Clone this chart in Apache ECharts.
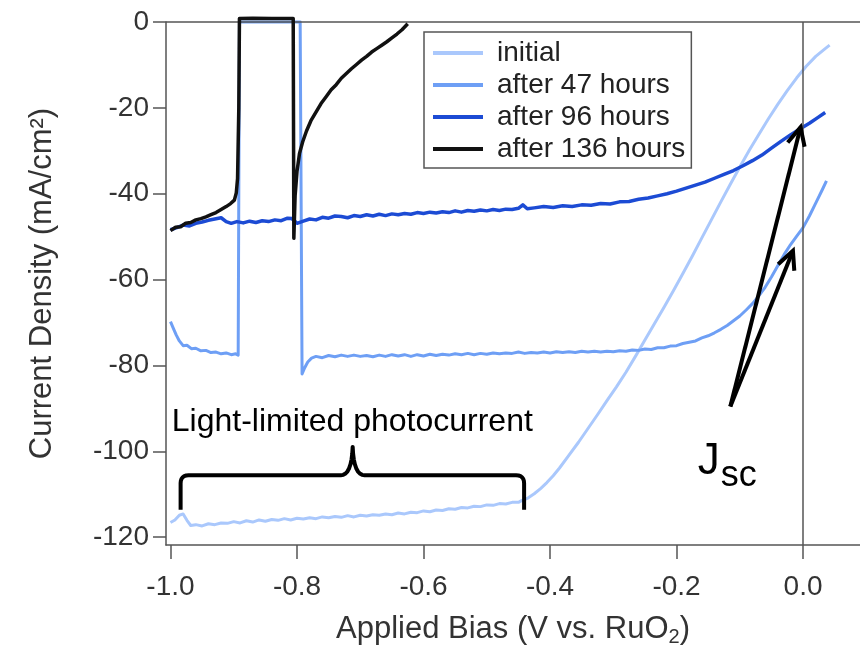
<!DOCTYPE html>
<html>
<head>
<meta charset="utf-8">
<script src="https://cdn.jsdelivr.net/npm/echarts@6/dist/echarts.min.js"></script>
<style>
  html, body { margin: 0; padding: 0; background: #fff; }
  #chart { width: 860px; height: 652px; }
</style>
</head>
<body>
<div id="chart"></div>
<script>
(function() {
  var font = 'Liberation Sans, Arial, Helvetica, sans-serif';
  var axisGray = '#555';
  var textGray = '#333';

  // series names, in legend order
  var seriesNames = ['initial', 'after 47 hours', 'after 96 hours', 'after 136 hours'];
  var seriesColors = ['#aac8fc', '#6e9ff5', '#1c4bd4', '#111111'];

  // tick values
  var xTicks = [-1.0, -0.8, -0.6, -0.4, -0.2, 0.0];
  var yTicks = [-120, -100, -80, -60, -40, -20, 0];

  // [bias V, current density mA/cm2]
  var initial = [
    [-1.000,-116.6],[-0.993,-116.0],[-0.986,-114.9],[-0.980,-114.6],[-0.974,-116.1],[-0.968,-117.3],
    [-0.960,-117.1],[-0.950,-117.4],[-0.940,-116.9],[-0.930,-117.1],[-0.920,-116.7],[-0.910,-116.8],
    [-0.900,-116.4],[-0.890,-116.7],[-0.880,-116.2],[-0.870,-116.5],[-0.860,-116.0],[-0.850,-116.3],
    [-0.840,-115.9],[-0.830,-116.1],[-0.820,-115.7],[-0.810,-116.0],[-0.800,-115.6],[-0.790,-115.8],
    [-0.780,-115.5],[-0.770,-115.7],[-0.760,-115.3],[-0.750,-115.5],[-0.740,-115.2],[-0.730,-115.4],
    [-0.720,-115.0],[-0.710,-115.3],[-0.700,-114.9],[-0.690,-115.1],[-0.680,-114.8],[-0.670,-114.9],
    [-0.660,-114.6],[-0.650,-114.8],[-0.640,-114.4],[-0.630,-114.6],[-0.620,-114.2],[-0.610,-114.3],
    [-0.600,-113.9],[-0.590,-114.1],[-0.580,-113.7],[-0.570,-113.8],[-0.560,-113.4],[-0.550,-113.5],
    [-0.540,-113.1],[-0.530,-113.2],[-0.520,-112.8],[-0.510,-112.9],[-0.500,-112.5],[-0.490,-112.6],
    [-0.480,-112.2],[-0.470,-112.3],[-0.460,-111.9],[-0.450,-111.9],[-0.445,-111.5],[-0.435,-110.9],
    [-0.425,-109.9],[-0.415,-108.7],[-0.405,-107.3],[-0.395,-105.7],[-0.385,-103.9],[-0.370,-100.9],
    [-0.355,-97.9],[-0.340,-94.7],[-0.325,-91.5],[-0.310,-88.2],[-0.295,-85.0],[-0.280,-81.6],
    [-0.265,-77.9],[-0.250,-74.1],[-0.235,-70.3],[-0.220,-66.5],[-0.205,-62.6],[-0.190,-58.6],
    [-0.175,-54.5],[-0.160,-50.3],[-0.145,-46.1],[-0.130,-41.9],[-0.115,-37.8],[-0.100,-33.8],
    [-0.085,-29.9],[-0.070,-26.2],[-0.055,-22.6],[-0.040,-19.2],[-0.025,-16.0],[-0.010,-13.0],
    [0.005,-10.3],[0.020,-8.0],[0.035,-6.2],[0.042,-5.4]
  ];

  var after47 = [
    [-1.000,-69.8],[-0.996,-71.2],[-0.991,-72.9],[-0.986,-74.3],[-0.980,-75.4],[-0.974,-75.3],
    [-0.967,-76.1],[-0.960,-76.0],[-0.952,-76.6],[-0.944,-76.5],[-0.936,-77.0],[-0.928,-76.9],
    [-0.920,-77.3],[-0.912,-77.1],[-0.904,-77.5],[-0.897,-77.3],[-0.893,-77.6],[-0.891,0],
    [-0.795,0],[-0.792,-82.0],[-0.788,-80.6],[-0.783,-79.2],[-0.777,-78.3],[-0.770,-77.9],
    [-0.760,-78.2],[-0.750,-77.7],[-0.740,-78.0],[-0.730,-77.6],[-0.720,-77.9],[-0.710,-77.6],
    [-0.700,-77.9],[-0.690,-77.7],[-0.680,-78.0],[-0.670,-77.6],[-0.660,-77.9],[-0.650,-77.5],
    [-0.640,-77.8],[-0.630,-77.5],[-0.620,-77.9],[-0.610,-77.5],[-0.600,-77.8],[-0.590,-77.4],
    [-0.580,-77.7],[-0.570,-77.4],[-0.560,-77.6],[-0.550,-77.3],[-0.540,-77.5],[-0.530,-77.2],
    [-0.520,-77.5],[-0.510,-77.2],[-0.500,-77.4],[-0.490,-77.1],[-0.480,-77.3],[-0.470,-77.1],
    [-0.460,-77.2],[-0.450,-76.9],[-0.440,-77.2],[-0.430,-77.0],[-0.420,-77.1],[-0.410,-76.9],
    [-0.400,-77.1],[-0.390,-76.8],[-0.380,-77.0],[-0.370,-76.8],[-0.360,-77.0],[-0.350,-76.7],
    [-0.340,-76.9],[-0.330,-76.7],[-0.320,-76.9],[-0.310,-76.7],[-0.300,-76.8],[-0.290,-76.6],
    [-0.280,-76.7],[-0.270,-76.4],[-0.260,-76.5],[-0.250,-76.2],[-0.240,-76.3],[-0.230,-75.9],
    [-0.220,-75.9],[-0.210,-75.5],[-0.200,-75.4],[-0.190,-74.9],[-0.180,-74.6],[-0.170,-74.3],
    [-0.160,-73.6],[-0.150,-73.1],[-0.140,-72.4],[-0.130,-71.6],[-0.120,-70.7],[-0.110,-69.6],
    [-0.100,-68.5],[-0.090,-67.1],[-0.080,-65.6],[-0.070,-63.8],[-0.060,-61.8],[-0.050,-59.4],
    [-0.040,-56.8],[-0.030,-54.2],[-0.020,-51.9],[-0.010,-49.9],[0.000,-47.9],[0.010,-45.2],
    [0.020,-42.2],[0.030,-39.2],[0.037,-37.0]
  ];

  var after96 = [
    [-1.000,-48.4],[-0.990,-47.9],[-0.980,-47.3],[-0.970,-47.5],[-0.960,-46.9],[-0.950,-46.6],
    [-0.940,-46.2],[-0.930,-45.9],[-0.920,-45.6],[-0.912,-46.5],[-0.904,-46.9],[-0.895,-46.5],
    [-0.885,-46.8],[-0.875,-46.4],[-0.865,-46.7],[-0.855,-46.3],[-0.845,-46.5],[-0.835,-46.1],
    [-0.825,-46.3],[-0.815,-45.7],[-0.808,-45.8],[-0.800,-46.9],[-0.790,-46.4],[-0.780,-45.9],
    [-0.770,-46.1],[-0.760,-45.5],[-0.750,-45.7],[-0.740,-45.2],[-0.730,-45.3],[-0.720,-45.6],
    [-0.710,-45.1],[-0.700,-45.3],[-0.690,-44.9],[-0.680,-45.2],[-0.670,-44.8],[-0.660,-45.1],
    [-0.650,-44.7],[-0.640,-44.9],[-0.630,-44.6],[-0.620,-44.8],[-0.610,-44.4],[-0.600,-44.6],
    [-0.590,-44.3],[-0.580,-44.5],[-0.570,-44.2],[-0.560,-44.4],[-0.550,-44.0],[-0.540,-44.3],
    [-0.530,-43.9],[-0.520,-44.1],[-0.510,-43.8],[-0.500,-44.0],[-0.490,-43.7],[-0.480,-43.9],
    [-0.470,-43.6],[-0.460,-43.7],[-0.450,-43.4],[-0.443,-42.6],[-0.436,-43.5],[-0.425,-43.3],
    [-0.410,-43.0],[-0.395,-43.2],[-0.380,-42.8],[-0.365,-43.0],[-0.350,-42.6],[-0.335,-42.7],
    [-0.320,-42.3],[-0.305,-42.4],[-0.290,-41.9],[-0.275,-41.8],[-0.260,-41.3],[-0.245,-41.0],
    [-0.230,-40.5],[-0.215,-40.0],[-0.200,-39.4],[-0.185,-38.7],[-0.170,-38.0],[-0.155,-37.3],
    [-0.140,-36.4],[-0.125,-35.5],[-0.110,-34.6],[-0.095,-33.5],[-0.080,-32.3],[-0.065,-31.0],
    [-0.050,-29.4],[-0.035,-27.8],[-0.020,-26.3],[-0.005,-24.9],[0.010,-23.6],[0.022,-22.4],
    [0.035,-21.1]
  ];

  var after136 = [
    [-1.000,-48.6],[-0.992,-47.8],[-0.984,-47.7],[-0.976,-46.9],[-0.968,-46.7],[-0.960,-46.1],
    [-0.952,-45.8],[-0.944,-45.4],[-0.936,-44.9],[-0.928,-44.4],[-0.920,-43.7],[-0.912,-43.0],
    [-0.905,-42.3],[-0.899,-41.5],[-0.896,-39.8],[-0.894,-36.5],[-0.892,-20.0],[-0.891,0.8],
    [-0.870,0.9],[-0.840,0.8],[-0.806,0.8],[-0.805,-50.4],[-0.803,-40.5],[-0.800,-34.8],
    [-0.796,-30.6],[-0.791,-27.9],[-0.785,-25.4],[-0.778,-23.0],[-0.770,-21.0],[-0.762,-19.0],
    [-0.754,-17.4],[-0.746,-15.8],[-0.738,-14.6],[-0.730,-13.1],[-0.722,-12.0],[-0.714,-10.9],
    [-0.706,-9.9],[-0.698,-8.9],[-0.690,-8.0],[-0.682,-7.0],[-0.674,-6.2],[-0.666,-5.4],
    [-0.658,-4.6],[-0.650,-3.7],[-0.642,-2.8],[-0.634,-1.8],[-0.625,-0.4]
  ];

  var seriesData = [initial, after47, after96, after136];
  var lineWidths = [3, 3, 3.5, 3.5];

  var chart = echarts.init(document.getElementById('chart'), null, { renderer: 'canvas' });

  var series = seriesData.map(function(d, i) {
    var s = {
      name: seriesNames[i],
      type: 'line',
      data: d,
      showSymbol: false,
      symbol: 'none',
      clip: false,
      silent: true,
      lineStyle: { color: seriesColors[i], width: lineWidths[i], join: 'round' },
      itemStyle: { color: seriesColors[i] },
      z: 2 + i
    };
    if (i === 0) {
      s.markLine = {
        silent: true,
        symbol: ['none', 'none'],
        label: { show: false },
        lineStyle: { color: axisGray, width: 1.5, type: 'solid' },
        data: [{ xAxis: 0 }, { yAxis: 0 }]
      };
    }
    return s;
  });

  chart.setOption({
    animation: false,
    textStyle: { fontFamily: font },
    grid: { left: 166, right: 0, top: 22, bottom: 99, containLabel: false },
    legend: {
      orient: 'vertical',
      left: 424,
      top: 32,
      padding: [6, 6, 4, 9],
      itemGap: 2,
      itemWidth: 50,
      itemHeight: 4,
      icon: 'rect',
      borderColor: axisGray,
      borderWidth: 1.5,
      data: seriesNames,
      textStyle: { fontSize: 28, color: '#222', fontFamily: font, lineHeight: 30, padding: [0, 0, 0, 9] }
    },
    xAxis: {
      type: 'value',
      min: -1.0071,
      max: 0.090,
      splitLine: { show: false },
      axisLine: { onZero: false, lineStyle: { color: axisGray, width: 1.5 } },
      axisTick: { length: 14, lineStyle: { color: axisGray, width: 1.5 }, customValues: xTicks },
      axisLabel: {
        customValues: xTicks, margin: 28, fontSize: 28, color: textGray, fontFamily: font,
        formatter: function(v) { return v.toFixed(1); }
      },
      name: 'Applied Bias (V vs. RuO{sub|2})',
      nameLocation: 'middle',
      nameGap: 67,
      nameTextStyle: {
        fontSize: 31, color: textGray, fontFamily: font,
        rich: { sub: { fontSize: 20, color: textGray, fontFamily: font, padding: [15, 0, 0, 0] } }
      }
    },
    yAxis: {
      type: 'value',
      min: -121.84,
      max: 0,
      splitLine: { show: false },
      axisLine: { onZero: false, lineStyle: { color: axisGray, width: 1.5 } },
      axisTick: { length: 13, lineStyle: { color: axisGray, width: 1.5 }, customValues: yTicks },
      axisLabel: { customValues: yTicks, margin: 17, fontSize: 28, color: textGray, fontFamily: font },
      name: 'Current Density (mA/cm\u00b2)',
      nameLocation: 'middle',
      nameGap: 108,
      nameTextStyle: { fontSize: 31, color: textGray, fontFamily: font }
    },
    series: series
  });

  // annotations placed in data coordinates
  function px(p) { return chart.convertToPixel({ gridIndex: 0 }, p); }

  // quadratic curve points from p0 via c to p1
  function quad(p0, c, p1, n) {
    var out = [];
    for (var k = 1; k <= n; k++) {
      var t = k / n, u = 1 - t;
      out.push([u * u * p0[0] + 2 * u * t * c[0] + t * t * p1[0], u * u * p0[1] + 2 * u * t * c[1] + t * t * p1[1]]);
    }
    return out;
  }

  var bL = px([-0.984, -113.6]);
  var bR = px([-0.441, -113.6]);
  var bBar = px([-0.712, -105.6]);
  var bTip = px([-0.712, -99.0]);
  var r = 8, by = bBar[1], mx = bTip[0];
  var bracePts = [[bL[0], bL[1]], [bL[0], by + r]]
    .concat(quad([bL[0], by + r], [bL[0], by], [bL[0] + r, by], 6))
    .concat([[mx - 12, by]])
    .concat(quad([mx - 12, by], [mx - 1, by], [mx, bTip[1]], 8))
    .concat(quad([mx, bTip[1]], [mx + 1, by], [mx + 12, by], 8))
    .concat([[bR[0] - r, by]])
    .concat(quad([bR[0] - r, by], [bR[0], by], [bR[0], by + r], 6))
    .concat([[bR[0], bR[1]]]);

  function arrow(from, to) {
    var a = px(from), b = px(to);
    var ang = Math.atan2(b[1] - a[1], b[0] - a[0]);
    var L = 20, t = 0.45;
    var h1 = [b[0] - L * Math.cos(ang - t), b[1] - L * Math.sin(ang - t)];
    var h2 = [b[0] - L * Math.cos(ang + t), b[1] - L * Math.sin(ang + t)];
    return [
      { type: 'polyline', silent: true, z: 20, shape: { points: [a, b] }, style: { stroke: '#000', lineWidth: 4, fill: null } },
      { type: 'polyline', silent: true, z: 20, shape: { points: [h1, b, h2] }, style: { stroke: '#000', lineWidth: 4, fill: null, lineJoin: 'miter' } }
    ];
  }

  var tail = [-0.115, -89.6];
  var labelPos = px([-0.998, -93.2]);
  var jPos = px([-0.165, -101.0]);

  var graphics = [
    { type: 'polyline', silent: true, z: 20, shape: { points: bracePts }, style: { stroke: '#000', lineWidth: 4, fill: null, lineJoin: 'round' } },
    { type: 'text', silent: true, z: 20, x: labelPos[0], y: labelPos[1],
      style: { text: 'Light-limited photocurrent', fontSize: 32, fontFamily: font, fill: '#000', align: 'left', verticalAlign: 'middle' } },
    { type: 'text', silent: true, z: 20, x: jPos[0] - 1, y: jPos[1] + 6,
      style: { text: 'J', fontSize: 44, fontFamily: font, fill: '#000', align: 'left', verticalAlign: 'middle' } },
    { type: 'text', silent: true, z: 20, x: jPos[0] + 22, y: jPos[1] + 21,
      style: { text: 'sc', fontSize: 36, fontFamily: font, fill: '#000', align: 'left', verticalAlign: 'middle' } }
  ].concat(arrow(tail, [-0.004, -24.5]), arrow(tail, [-0.016, -53.3]));

  chart.setOption({ graphic: graphics });
})();
</script>
</body>
</html>
